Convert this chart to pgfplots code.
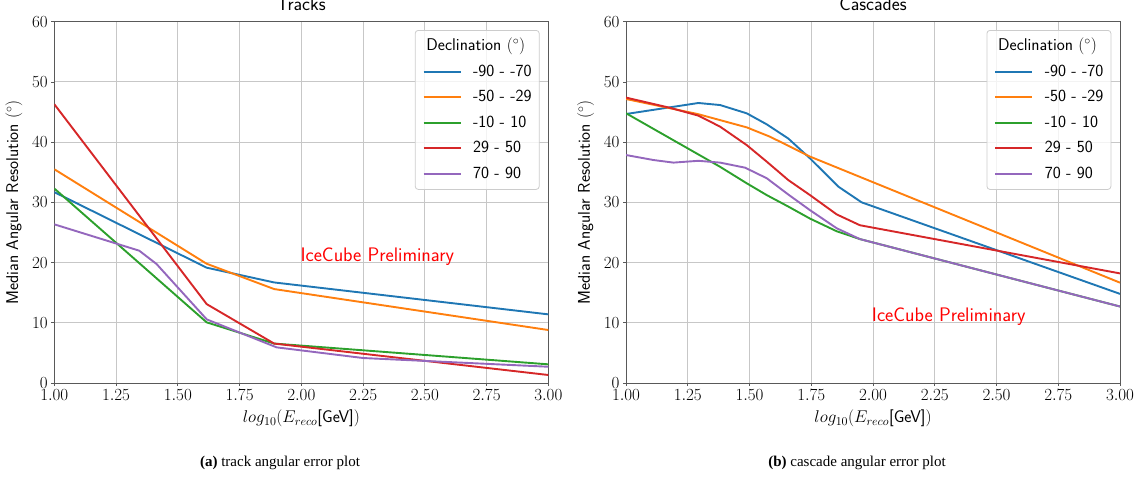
\RequirePackage{fix-cm}
\documentclass[border=0pt]{standalone}
\usepackage{fontspec}
\usepackage{pgfplots}
\pgfplotsset{compat=1.18}
\newfontfamily\timesfont{Liberation Serif}
\definecolor{tabblue}{HTML}{1F77B4}
\definecolor{taborange}{HTML}{FF7F0E}
\definecolor{tabgreen}{HTML}{2CA02C}
\definecolor{tabred}{HTML}{D62728}
\definecolor{tabpurple}{HTML}{9467BD}
\pgfplotsset{
  myaxis/.style={
    scale only axis, width=494pt, height=361.3pt,
    xmin=1, xmax=3, ymin=0, ymax=60,
    xtick={1,1.25,1.5,1.75,2,2.25,2.5,2.75,3},
    ytick={0,10,20,30,40,50,60},
    xticklabel style={/pgf/number format/.cd, fixed, fixed zerofill, precision=2},
    tick label style={font=\fontsize{17}{20}\selectfont},
    tick pos=left, tick align=outside, major tick length=3pt,
    tick style={black!65, line width=0.8pt},
    axis line style={black!65, line width=0.8pt},
    grid=major, major grid style={black!22, line width=0.9pt},
    every axis title shift=0pt,
    title style={font=\sffamily\fontsize{19}{22}\selectfont, at={(axis description cs:0.5,1.031)}, anchor=base},
    label style={font=\fontsize{17}{20}\selectfont},
    xlabel style={at={(axis description cs:0.5,-0.0977)}, anchor=center},
    ylabel style={at={(axis description cs:-0.0816,0.5)}, anchor=center},
    xlabel={$log_{10}(E_{reco}$\textsf{[GeV]}$)$},
    ylabel={\textsf{Median Angular Resolution} $(^\circ)$},
    legend style={
      at={(1,1)}, anchor=north east, xshift=-8.7pt, yshift=-8.3pt,
      draw=black!20, line width=0.8pt, rounded corners=3pt,
      fill=white, fill opacity=0.8, text opacity=1, draw opacity=1,
      inner xsep=7.5pt, inner ysep=7pt,
      row sep=8pt, column sep=11.5pt,
      font=\sffamily\fontsize{17}{20}\selectfont,
      nodes={inner sep=0pt, text height=13.5pt, text depth=4pt},
      cells={anchor=west},
    },
    legend image code/.code={\draw[#1, line width=1.9pt] (0pt,0pt) -- (37pt,0pt);},
    every axis plot/.append style={line width=1.9pt},
  }
}
\begin{document}
\begin{tikzpicture}
\path[use as bounding box] (0pt,0pt) rectangle (1143pt,477pt);
% ---------------- Tracks ----------------
\begin{axis}[myaxis, at={(54.3pt,94pt)}, anchor=south west, title={Tracks}]
\addlegendimage{empty legend}
\addlegendentry{\hspace*{-46.7pt}Declination $(^\circ)$}
\addplot[tabblue] coordinates {(1.0,31.7) (1.617,19.15) (1.89,16.7) (3.0,11.4)};
\addlegendentry{-90 - -70}
\addplot[taborange] coordinates {(1.0,35.5) (1.617,19.8) (1.89,15.6) (3.0,8.8)};
\addlegendentry{-50 - -29}
\addplot[tabgreen] coordinates {(1.0,32.3) (1.617,10.07) (1.89,6.55) (3.0,3.1)};
\addlegendentry{-10 - 10}
\addplot[tabred] coordinates {(1.0,46.3) (1.617,13.1) (1.89,6.55) (3.0,1.33)};
\addlegendentry{29 - 50}
\addplot[tabpurple] coordinates {(1.0,26.35) (1.344,21.97) (1.414,19.76) (1.617,10.57) (1.9,5.92) (2.25,4.15) (3.0,2.7)};
\addlegendentry{70 - 90}
\node[anchor=base west, inner sep=0pt, text=red, font=\sffamily\fontsize{19.6}{22}\selectfont] at (axis cs:1.996,20.1) {IceCube Preliminary};
\end{axis}
% ---------------- Cascades ----------------
\begin{axis}[myaxis, at={(626pt,94pt)}, anchor=south west, title={Cascades}]
\addlegendimage{empty legend}
\addlegendentry{\hspace*{-46.7pt}Declination $(^\circ)$}
\addplot[tabblue] coordinates {(1.0,44.67) (1.293,46.5) (1.381,46.16) (1.489,44.78) (1.57,42.95) (1.657,40.6) (1.745,37.3) (1.86,32.6) (1.954,30.0) (3.0,14.8)};
\addlegendentry{-90 - -70}
\addplot[taborange] coordinates {(1.0,47.16) (1.29,44.67) (1.489,42.45) (1.583,40.9) (1.691,38.7) (1.745,37.6) (3.0,16.66)};
\addlegendentry{-50 - -29}
\addplot[tabgreen] coordinates {(1.0,44.8) (1.381,35.9) (1.489,33.16) (1.57,31.2) (1.657,29.3) (1.745,27.3) (1.853,25.2) (1.947,23.9) (3.0,12.7)};
\addlegendentry{-10 - 10}
\addplot[tabred] coordinates {(1.0,47.4) (1.178,45.7) (1.293,44.4) (1.381,42.57) (1.489,39.5) (1.57,36.75) (1.657,33.7) (1.745,31.2) (1.853,28.0) (1.947,26.2) (3.0,18.2)};
\addlegendentry{29 - 50}
\addplot[tabpurple] coordinates {(1.0,37.86) (1.111,37.03) (1.192,36.6) (1.293,36.9) (1.381,36.6) (1.482,35.76) (1.57,34.0) (1.657,31.3) (1.745,28.7) (1.853,25.7) (1.947,23.9) (3.0,12.7)};
\addlegendentry{70 - 90}
\node[anchor=base west, inner sep=0pt, text=red, font=\sffamily\fontsize{19.6}{22}\selectfont] at (axis cs:1.995,10.2) {IceCube Preliminary};
\end{axis}
% ---------------- captions ----------------
\node[anchor=base, inner sep=0pt, font=\timesfont\fontsize{15}{17}\selectfont] at (280pt,11pt) {\textbf{(a)} track angular error plot};
\node[anchor=base, inner sep=0pt, font=\timesfont\fontsize{15}{17}\selectfont] at (857pt,11pt) {\textbf{(b)} cascade angular error plot};
\end{tikzpicture}
\end{document}
